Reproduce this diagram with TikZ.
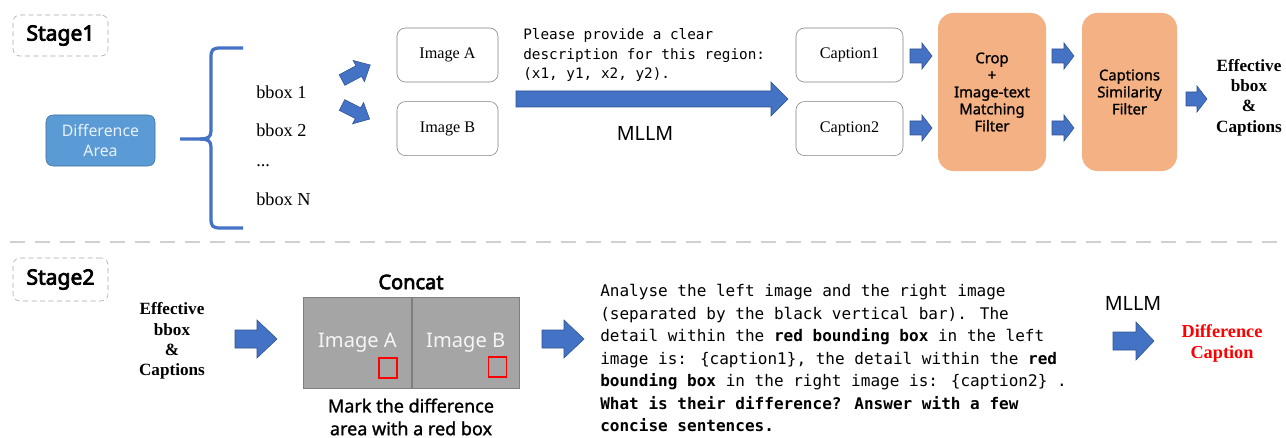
\documentclass[tikz,border=0pt]{standalone}
\usepackage{fontspec}
\setmainfont{Liberation Serif}
\newfontfamily\uifont{Noto Sans}[AutoFakeBold=3.6]
\newfontfamily\uimedium{Noto Sans}[FakeBold=1.2]
\newfontfamily\codefont{DejaVu Sans Mono}
\usepackage{tikz}
\usetikzlibrary{positioning}

\definecolor{arrowblue}{HTML}{4472C4}
\definecolor{arrowedge}{HTML}{2F528F}
\definecolor{areablue}{HTML}{5B9BD5}
\definecolor{areaedge}{HTML}{41719C}
\definecolor{filterorange}{HTML}{F4B183}
\definecolor{boxgray}{HTML}{7F7F7F}
\definecolor{concatgray}{HTML}{A5A5A5}
\definecolor{stagegray}{HTML}{A6A6A6}
\definecolor{linegray}{HTML}{D0D0D0}

% block arrow: position, angle, length, head length, half shaft, half head
\newcommand{\blockarrow}[6]{%
  \begin{scope}[shift={#1}, rotate=#2]
    \filldraw[fill=arrowblue, draw=arrowedge, line width=0.4pt]
      (0,-#5) -- ({#3-#4},-#5) -- ({#3-#4},-#6) -- (#3,0) --
      ({#3-#4},#6) -- ({#3-#4},#5) -- (0,#5) -- cycle;
  \end{scope}}

\begin{document}
\begin{tikzpicture}[x=0.025cm, y=-0.025cm,
    stagebox/.style={draw=stagegray, dash pattern=on 3.5pt off 2.5pt, rounded corners=5pt,
        minimum width=2.375cm, font=\uifont\bfseries\fontsize{15}{18}\selectfont},
    imgbox/.style={draw=boxgray, rounded corners=6pt, minimum width=2.525cm,
        minimum height=1.35cm, font=\fontsize{11.5}{13}\selectfont},
    capbox/.style={imgbox, minimum width=2.675cm},
    filterbox/.style={fill=filterorange, rounded corners=11pt, minimum height=3.95cm,
        align=center, font=\uimedium\fontsize{10.5}{12.1}\selectfont},
    halfimg/.style={fill=concatgray, draw=boxgray, minimum width=2.69cm, minimum height=2.275cm,
        inner sep=0pt, text=white!92!gray, font=\uifont\fontsize{14.3}{16}\selectfont},
    redbox/.style={draw=red, line width=0.9pt, minimum width=0.45cm, minimum height=0.5cm, inner sep=0pt},
    result/.style={align=center, font=\bfseries\fontsize{12.2}{14.5}\selectfont},
    bboxtext/.style={anchor=west, inner sep=0pt, font=\fontsize{13}{15}\selectfont},
    mllm/.style={font=\uifont\fontsize{14}{16}\selectfont}
  ]
  \useasboundingbox (0,0) rectangle (1286,438);

  % ---------- Stage 1 ----------
  \node[stagebox, minimum height=1.025cm] (stageone) at (60.5,35.5) {Stage1};

  \node[fill=areablue, draw=areaedge, rounded corners=5pt, minimum width=2.725cm,
        minimum height=1.275cm, align=center, text=white!85!areablue,
        font=\uifont\fontsize{11.3}{14}\selectfont] (area) at (100.5,140.5) {Difference\\Area};

  % brace
  \draw[arrowblue, line width=2.3pt]
    (243,48) -- (221,48) .. controls (212,48) and (211,50) .. (211,58) -- (211,131)
      .. controls (211,137) and (208,139) .. (200,139) -- (180,139);
  \draw[arrowblue, line width=2.3pt]
    (243,228) -- (221,228) .. controls (212,228) and (211,226) .. (211,218) -- (211,147)
      .. controls (211,141) and (208,139) .. (200,139);

  \node[bboxtext] (bboxa) at (256,92) {bbox 1};
  \node[bboxtext] (bboxb) at (256,130) {bbox 2};
  \node[bboxtext] (bboxdots) at (256,166) {...};
  \node[bboxtext] (bboxn) at (256,199) {bbox N};

  \blockarrow{(342,80)}{28}{32}{13}{6}{12}
  \blockarrow{(342,105)}{-27}{31}{13}{6}{12}

  \node[imgbox] (imga) at (447.5,55) {Image A};
  \node[imgbox, below=0.475cm of imga] (imgb) {Image B};

  \node[anchor=north west, inner sep=0pt, align=left,
        font=\codefont\fontsize{10.2}{13.9}\selectfont] (prompt) at (523,28.5)
        {Please provide a clear\\description for this region:\\(x1, y1, x2, y2).};
  \blockarrow{(516,99)}{0}{272}{17}{8}{17}
  \node[mllm] (mllmone) at (645,133) {MLLM};

  \node[capbox] (capa) at (849.5,55) {Caption1};
  \node[capbox, below=0.475cm of capa] (capb) {Caption2};

  \blockarrow{(910,56)}{0}{22}{10}{7}{13}
  \blockarrow{(910,128)}{0}{22}{10}{7}{13}

  \node[filterbox, minimum width=2.7cm] (matchfilter) at (992,92)
        {Crop\\+\\Image-text\\Matching\\Filter};

  \blockarrow{(1052,56)}{0}{22}{10}{7}{13}
  \blockarrow{(1052,128)}{0}{22}{10}{7}{13}

  \node[filterbox, minimum width=2.375cm] (simfilter) at (1129.5,92)
        {Captions\\Similarity\\Filter};

  \blockarrow{(1186,99)}{0}{21}{10}{7}{13}
  \node[result] (effone) at (1249,97.5) {Effective\\bbox\\\&\\Captions};

  % separator
  \draw[linegray, line width=2.1pt, dash pattern=on 10.7pt off 7.1pt] (10,242) -- (1282,242);

  % ---------- Stage 2 ----------
  \node[stagebox, minimum height=1.075cm] (stagetwo) at (60.5,279.5) {Stage2};

  \node[result] (efftwo) at (172,341) {Effective\\bbox\\\&\\Captions};
  \blockarrow{(235,339)}{0}{42}{20}{9}{19}

  \node[font=\uifont\bfseries\fontsize{14.2}{16}\selectfont] (concat) at (411,282) {Concat};
  \node[halfimg] (halfa) at (357.5,342.5) {Image A};
  \node[halfimg, right=0pt of halfa] (halfb) {Image B};
  \node[redbox] (marka) at (388,368) {};
  \node[redbox] (markb) at (497.5,367) {};
  \node[align=center, font=\uimedium\fontsize{12.8}{16.2}\selectfont] (marktext) at (411,417)
        {Mark the difference\\area with a red box};

  \blockarrow{(542,339)}{0}{42}{20}{9}{19}

  \node[anchor=north west, inner sep=0pt, align=left,
        font=\codefont\fontsize{11.4}{16}\selectfont] (question) at (600,284)
        {Analyse the left image and the right image\\
         (separated by the black vertical bar). The\\
         detail within the \textbf{red bounding box} in the left\\
         image is: \{caption1\}, the detail within the \textbf{red}\\
         \textbf{bounding box} in the right image is: \{caption2\} .\\
         \textbf{What is their difference? Answer with a few}\\
         \textbf{concise sentences.}};

  \node[mllm] (mllmtwo) at (1133,303) {MLLM};
  \blockarrow{(1113,341)}{0}{41}{18}{9}{19}
  \node[result, text=red, font=\bfseries\fontsize{13}{15}\selectfont] (diffcap) at (1222,343.5)
        {Difference\\Caption};
\end{tikzpicture}
\end{document}
